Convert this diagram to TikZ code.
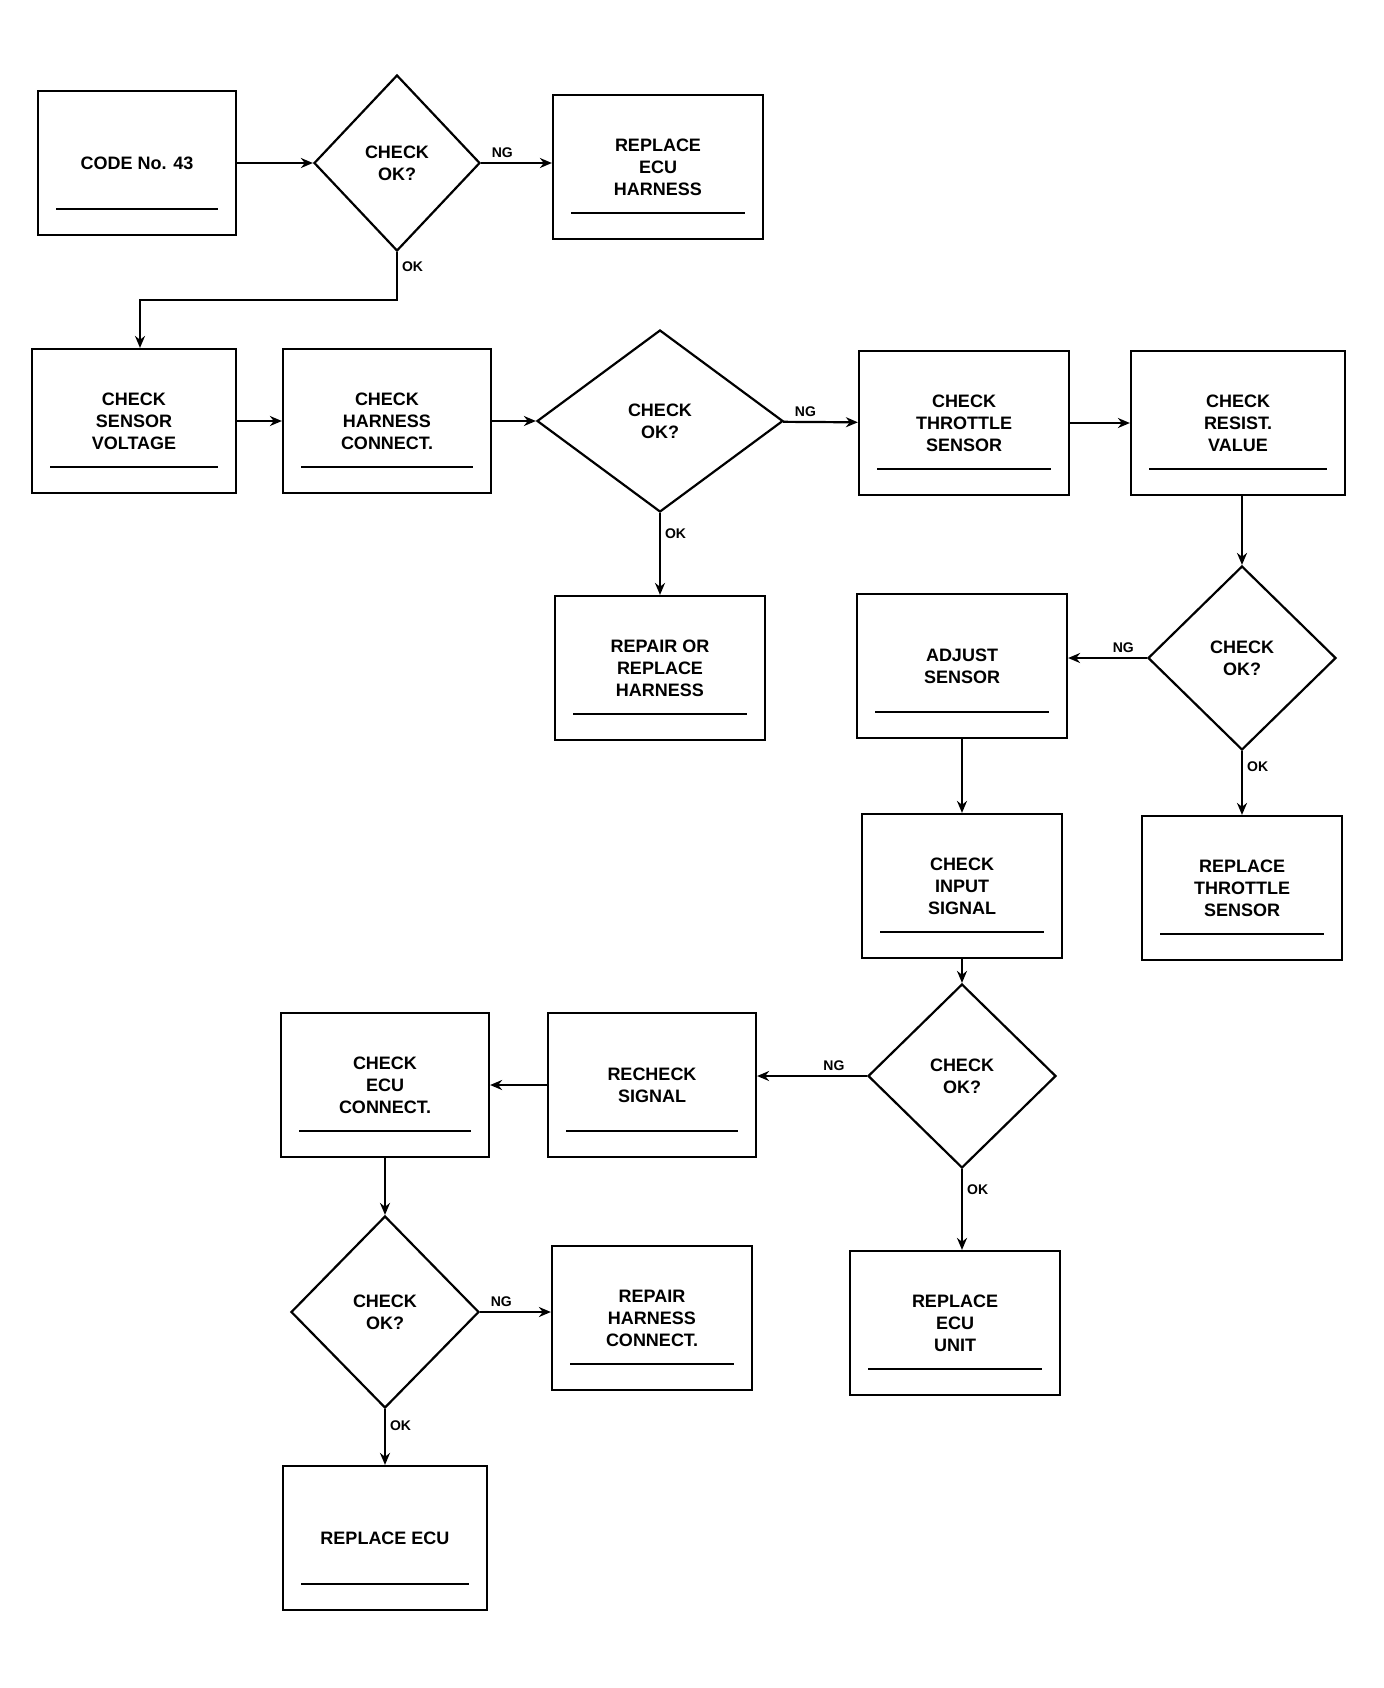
\documentclass[tikz,border=0pt]{standalone}
\usepackage{fontspec}
\setmainfont{Liberation Sans}
\usetikzlibrary{shapes.geometric,arrows.meta}
\begin{document}
\begin{tikzpicture}[x=0.5pt,y=-0.5pt,
  box/.style={draw, line width=1.1pt, rectangle, minimum width=#1, minimum height=72pt,
    align=center, font=\small\bfseries, inner sep=3pt,
    path picture={\draw[line width=0.8pt]
      ([shift={(9pt,13pt)}]path picture bounding box.south west) --
      ([shift={(-9pt,13pt)}]path picture bounding box.south east);}},
  box/.default=104pt,
  dec/.style={draw, line width=1.1pt, diamond, minimum width=94pt, minimum height=92pt,
    align=center, font=\small\bfseries, inner sep=1pt},
  flow/.style={draw, line width=1.1pt, -{Stealth[length=6pt,width=5pt]}},
  lbl/.style={font=\scriptsize\bfseries, inner sep=2pt}]
\useasboundingbox (0,0) rectangle (1383,1688);
% row 1
\node[box=99pt]  (A) at (137,163) {CODE No. 43};
\node[dec, minimum width=83pt, minimum height=88pt] (B) at (397,163) {CHECK\\OK?};
\node[box=105pt] (C) at (658,167) {REPLACE\\ECU\\HARNESS};
% row 2
\node[box=102pt] (D) at (134,421) {CHECK\\SENSOR\\VOLTAGE};
\node[box=104pt] (E) at (387,421) {CHECK\\HARNESS\\CONNECT.};
\node[dec, minimum width=123pt, minimum height=91pt] (F) at (660,421) {CHECK\\OK?};
\node[box=105pt] (G) at (964,423) {CHECK\\THROTTLE\\SENSOR};
\node[box=107pt] (H) at (1238,423) {CHECK\\RESIST.\\VALUE};
% row 3
\node[box=105pt] (I) at (660,668) {REPAIR OR\\REPLACE\\HARNESS};
\node[box=105pt] (J) at (962,666) {ADJUST\\SENSOR};
\node[dec] (K) at (1242,658) {CHECK\\OK?};
% row 4
\node[box=100pt] (L) at (962,886) {CHECK\\INPUT\\SIGNAL};
\node[box=100pt] (M) at (1242,888) {REPLACE\\THROTTLE\\SENSOR};
% row 5
\node[box=104pt] (N) at (385,1085) {CHECK\\ECU\\CONNECT.};
\node[box=104pt] (O) at (652,1085) {RECHECK\\SIGNAL};
\node[dec] (P) at (962,1076) {CHECK\\OK?};
% row 6
\node[dec, minimum height=96pt] (Q) at (385,1312) {CHECK\\OK?};
\node[box=100pt] (R) at (652,1318) {REPAIR\\HARNESS\\CONNECT.};
\node[box=105pt] (S) at (955,1323) {REPLACE\\ECU\\UNIT};
% row 7
\node[box=102pt] (T) at (385,1538) {REPLACE ECU};
% connectors
\coordinate (bend1) at (397,300);
\coordinate (bend2) at (140,300);
\draw[flow] (A) -- (B);
\draw[flow] (B.east) -- node[lbl, above, pos=0.3] {NG} (B.east -| C.west);
\draw[flow] (B.south) -- node[lbl, right, pos=0.3] {OK} (bend1) -- (bend2) -- (bend2 |- D.north);
\draw[flow] (D) -- (E);
\draw[flow] (E) -- (F);
\draw[flow] (F) -- node[lbl, above, pos=0.3] {NG} (G);
\draw[flow] (F) -- node[lbl, right, pos=0.25] {OK} (I);
\draw[flow] (G) -- (H);
\draw[flow] (H.south -| K.north) -- (K.north);
\draw[flow] (K.west) -- node[lbl, above, pos=0.3] {NG} (K.west -| J.east);
\draw[flow] (K) -- node[lbl, right, pos=0.25] {OK} (M);
\draw[flow] (J) -- (L);
\draw[flow] (L) -- (P);
\draw[flow] (P.west) -- node[lbl, above, pos=0.3] {NG} (P.west -| O.east);
\draw[flow] (P.south) -- node[lbl, right, pos=0.25] {OK} (P.south |- S.north);
\draw[flow] (O) -- (N);
\draw[flow] (N) -- (Q);
\draw[flow] (Q.east) -- node[lbl, above, pos=0.3] {NG} (Q.east -| R.west);
\draw[flow] (Q) -- node[lbl, right, pos=0.3] {OK} (T);
\end{tikzpicture}
\end{document}
